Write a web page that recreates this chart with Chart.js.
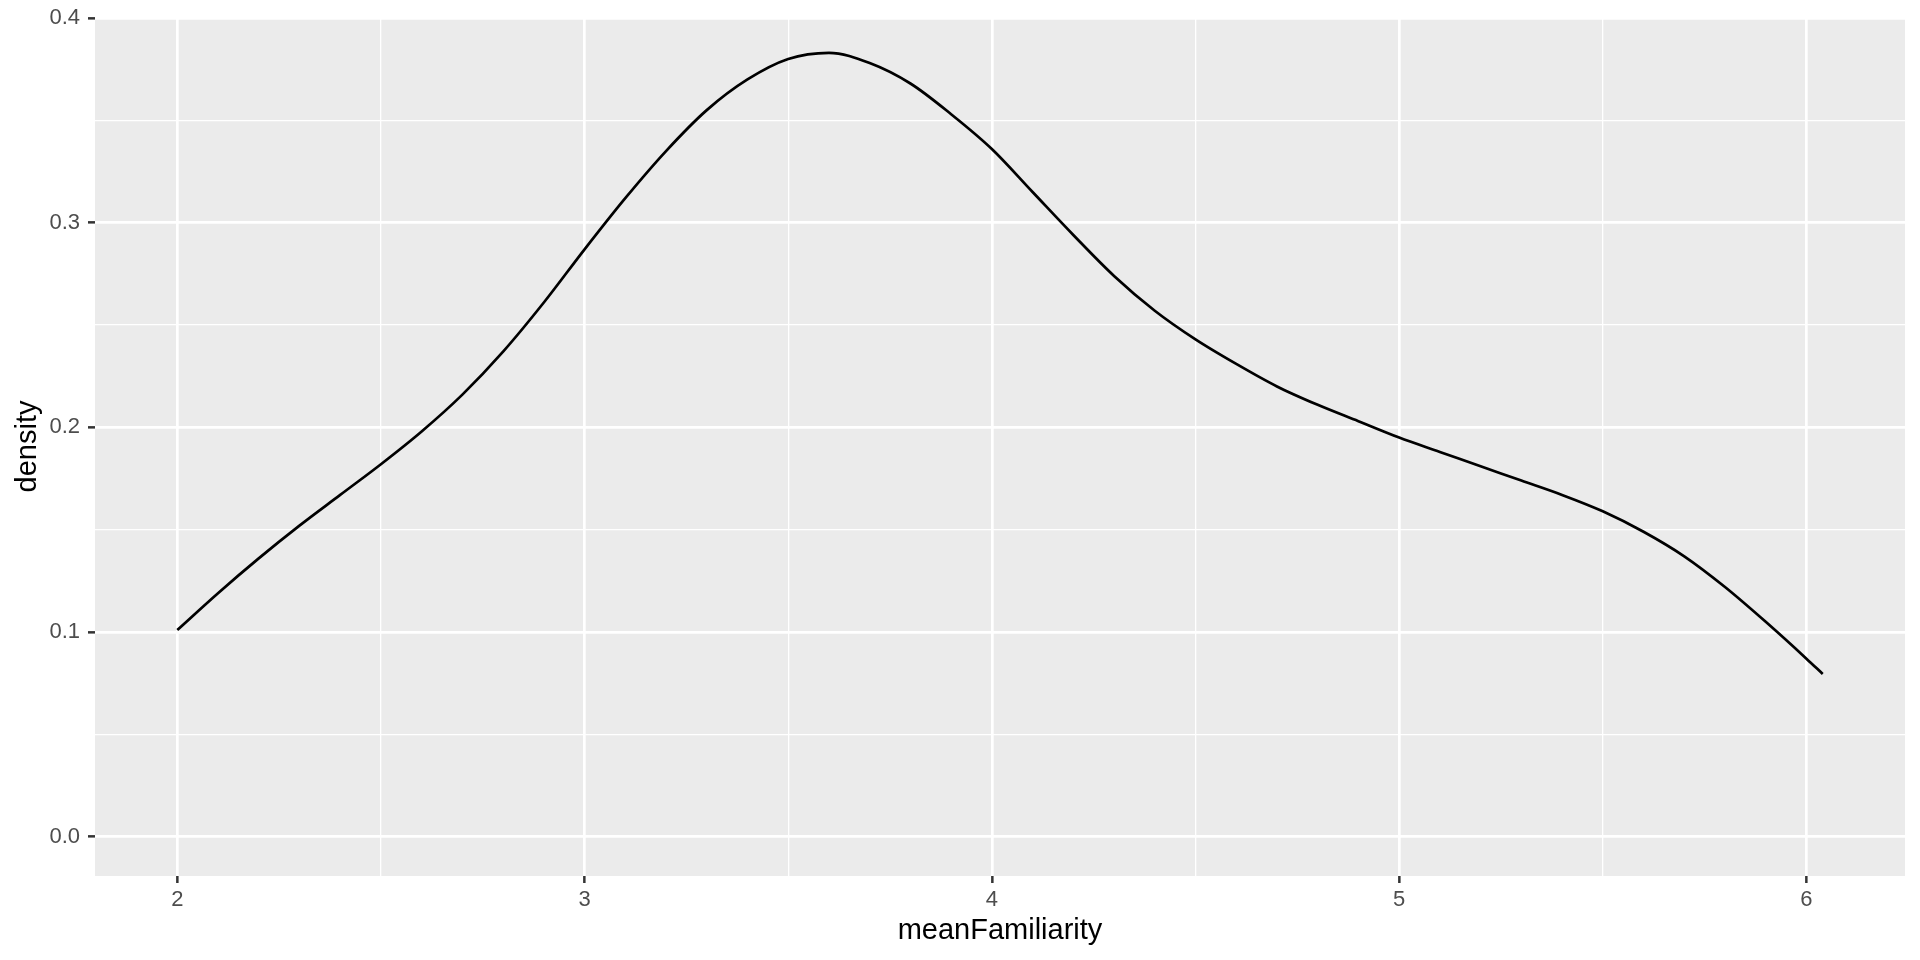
<!DOCTYPE html>
<html>
<head>
<meta charset="utf-8">
<title>density of meanFamiliarity</title>
<script src="https://cdn.jsdelivr.net/npm/chart.js@4/dist/chart.umd.min.js"></script>
<style>
  html, body { margin: 0; padding: 0; background: #ffffff; }
  #wrap { width: 1920px; height: 960px; position: relative; }
</style>
</head>
<body>
<div id="wrap"><canvas id="densityChart"></canvas></div>
<script>
// values
const familiarity = [2.0, 2.1, 2.2, 2.3, 2.4, 2.5, 2.6, 2.7, 2.8, 2.9,
                     3.0, 3.1, 3.2, 3.3, 3.4, 3.5, 3.6, 3.7, 3.8, 3.9,
                     4.0, 4.1, 4.2, 4.3, 4.4, 4.5, 4.6, 4.7, 4.8, 4.9,
                     5.0, 5.1, 5.2, 5.3, 5.4, 5.5, 5.6, 5.7, 5.8, 5.9,
                     6.0, 6.04];
const density = [0.101, 0.119, 0.136, 0.152, 0.167, 0.182, 0.198, 0.216, 0.237, 0.261,
                 0.287, 0.312, 0.335, 0.355, 0.370, 0.380, 0.383, 0.378, 0.368, 0.353,
                 0.336, 0.315, 0.294, 0.274, 0.257, 0.243, 0.231, 0.220, 0.211, 0.203,
                 0.195, 0.188, 0.181, 0.174, 0.167, 0.159, 0.149, 0.137, 0.122, 0.105,
                 0.087, 0.0795];

const xMajorTicks = [2, 3, 4, 5, 6];
const xMinorTicks = [2.5, 3.5, 4.5, 5.5];
const yMajorTicks = [0, 0.1, 0.2, 0.3, 0.4];
const yMinorTicks = [0.05, 0.15, 0.25, 0.35];

const xLimits = [1.798, 6.242];
const yLimits = [-0.0192, 0.4005];

const FONT = "'Liberation Sans', Arial, sans-serif";
const TICK_TEXT = '#4d4d4d';
const TICK_MARK = '#333333';

function isMajor(list, v) {
    return list.some(m => Math.abs(m - v) < 1e-9);
}

function sortedTicks(major, minor) {
    return major.concat(minor).sort((a, b) => a - b).map(v => ({ value: v }));
}

// grey ggplot-style panel behind the grid
const panelBackground = {
    id: 'panelBackground',
    beforeDraw(chart) {
        const { ctx, chartArea: a } = chart;
        ctx.save();
        ctx.fillStyle = '#ebebeb';
        ctx.fillRect(a.left, a.top, a.right - a.left, a.bottom - a.top);
        ctx.restore();
    }
};

const ctx = document.getElementById('densityChart').getContext('2d');

new Chart(ctx, {
    type: 'line',
    data: {
        datasets: [{
            label: 'density',
            data: familiarity.map((x, i) => ({ x: x, y: density[i] })),
            borderColor: '#000000',
            borderWidth: 2.7,
            pointRadius: 0,
            fill: false,
            cubicInterpolationMode: 'monotone'
        }]
    },
    options: {
        responsive: true,
        maintainAspectRatio: false,
        animation: false,
        layout: {
            padding: { top: 17, right: 15, left: 0, bottom: 0 }
        },
        plugins: {
            legend: { display: false },
            tooltip: { enabled: false }
        },
        scales: {
            x: {
                type: 'linear',
                min: xLimits[0],
                max: xLimits[1],
                afterBuildTicks: scale => { scale.ticks = sortedTicks(xMajorTicks, xMinorTicks); },
                afterFit: scale => { scale.height = 84; },
                border: { display: false },
                grid: {
                    color: '#ffffff',
                    lineWidth: c => isMajor(xMajorTicks, c.tick.value) ? 2.7 : 1.3,
                    tickColor: c => isMajor(xMajorTicks, c.tick.value) ? TICK_MARK : 'rgba(0,0,0,0)',
                    tickWidth: 2.5,
                    tickLength: 7
                },
                ticks: {
                    autoSkip: false,
                    maxRotation: 0,
                    padding: 4,
                    color: TICK_TEXT,
                    font: { family: FONT, size: 22 },
                    callback: v => isMajor(xMajorTicks, v) ? String(v) : ''
                },
                title: {
                    display: true,
                    text: 'meanFamiliarity',
                    color: '#000000',
                    font: { family: FONT, size: 29 },
                    padding: { top: 0, bottom: 12 }
                }
            },
            y: {
                type: 'linear',
                min: yLimits[0],
                max: yLimits[1],
                afterBuildTicks: scale => { scale.ticks = sortedTicks(yMajorTicks, yMinorTicks); },
                afterFit: scale => { scale.width = 95; },
                border: { display: false },
                grid: {
                    color: '#ffffff',
                    lineWidth: c => isMajor(yMajorTicks, c.tick.value) ? 2.7 : 1.3,
                    tickColor: c => isMajor(yMajorTicks, c.tick.value) ? TICK_MARK : 'rgba(0,0,0,0)',
                    tickWidth: 2.5,
                    tickLength: 7
                },
                ticks: {
                    autoSkip: false,
                    padding: 8,
                    color: TICK_TEXT,
                    // small line height keeps the top label from pushing the panel down
                    font: { family: FONT, size: 22, lineHeight: 0.8 },
                    callback: v => isMajor(yMajorTicks, v) ? v.toFixed(1) : ''
                },
                title: {
                    display: true,
                    text: 'density',
                    color: '#000000',
                    font: { family: FONT, size: 29 },
                    padding: { top: 11, bottom: 0 }
                }
            }
        }
    },
    plugins: [panelBackground]
});
</script>
</body>
</html>
